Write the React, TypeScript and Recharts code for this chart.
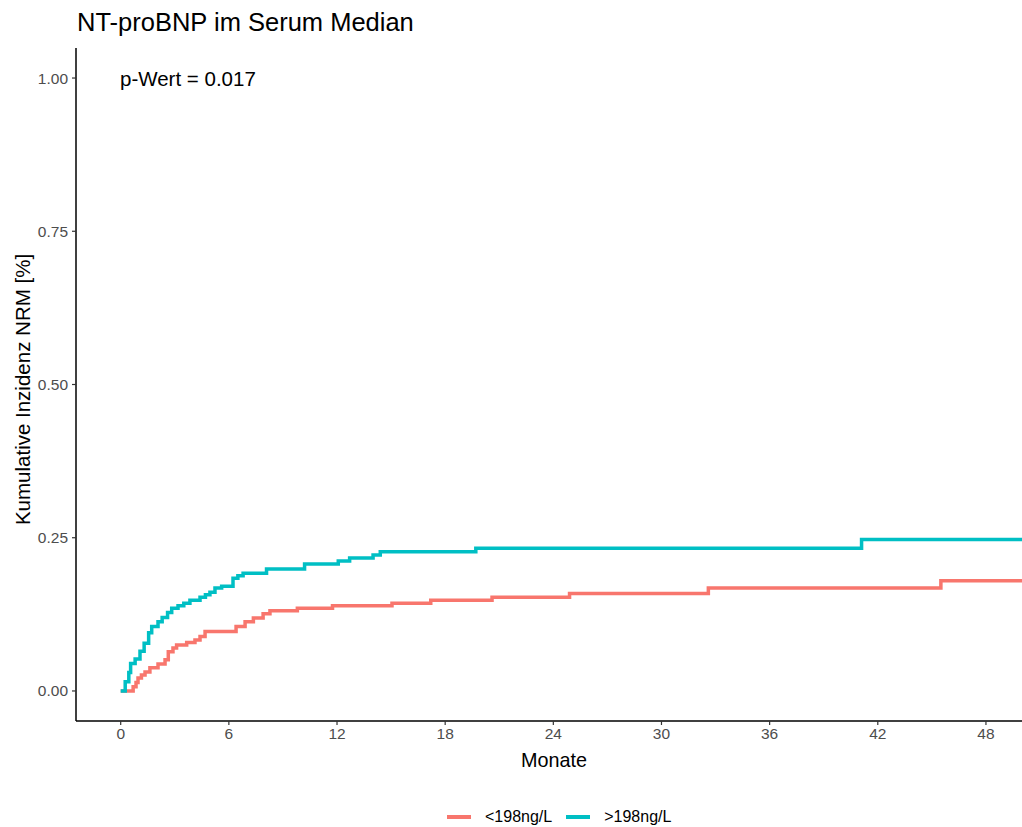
import React from 'react';
import { LineChart, Line, XAxis, YAxis } from 'recharts';

// Cumulative incidence of NRM, step points (months, incidence)
const monthsLow = [
  0, 0.6, 0.69, 0.85, 0.96, 1.15, 1.35, 1.62, 2.07, 2.46, 2.64, 2.9, 3.1, 3.66, 4.12, 4.4, 4.68,
  6.4, 6.9, 7.36, 7.9, 8.28, 9.8, 11.75, 15.05, 17.2, 20.6, 24.9, 32.6, 45.5, 50,
];
const nrmLow = [
  0, 0, 0.007, 0.014, 0.021, 0.026, 0.031, 0.038, 0.044, 0.051, 0.064, 0.07, 0.075, 0.079, 0.083,
  0.089, 0.097, 0.105, 0.113, 0.119, 0.126, 0.131, 0.135, 0.139, 0.143, 0.148, 0.153, 0.159, 0.168,
  0.18, 0.18,
];

const monthsHigh = [
  0, 0.25, 0.45, 0.55, 0.8, 1.07, 1.3, 1.55, 1.72, 2.07, 2.3, 2.6, 2.83, 3.18, 3.5, 3.84, 4.4, 4.7,
  4.95, 5.23, 5.6, 6.23, 6.5, 6.79, 8.09, 10.2, 12.07, 12.7, 14.0, 14.4, 19.7, 41.1, 50,
];
const nrmHigh = [
  0, 0.015, 0.03, 0.045, 0.052, 0.065, 0.078, 0.095, 0.105, 0.113, 0.12, 0.128, 0.135, 0.139, 0.143,
  0.148, 0.153, 0.157, 0.161, 0.168, 0.171, 0.184, 0.188, 0.192, 0.199, 0.207, 0.212, 0.217, 0.222,
  0.227, 0.233, 0.247, 0.247,
];

const groups = ['<198ng/L', '>198ng/L'];
const groupColors = ['#F8766D', '#00BFC4'];
const monthTicks = [0, 6, 12, 18, 24, 30, 36, 42, 48];
const yTicks = [0, 0.25, 0.5, 0.75, 1];

const toSeries = (t: number[], v: number[]) => t.map((m, i) => ({ t: m, v: v[i] }));
const lowData = toSeries(monthsLow, nrmLow);
const highData = toSeries(monthsHigh, nrmHigh);

const FONT = '"Liberation Sans", Arial, sans-serif';

function YTitle(props: any) {
  const { viewBox } = props;
  const cx = 22;
  const cy = viewBox.y + viewBox.height / 2 + 5;
  return (
    <text
      x={cx}
      y={cy}
      transform={`rotate(-90, ${cx}, ${cy})`}
      textAnchor="middle"
      dominantBaseline="central"
      fontSize={20.5}
      fill="#000"
      fontFamily={FONT}
    >
      Kumulative Inzidenz NRM [%]
    </text>
  );
}

function XTitle(props: any) {
  const { viewBox } = props;
  return (
    <text
      x={viewBox.x + viewBox.width / 2 + 5}
      y={760}
      textAnchor="middle"
      dominantBaseline="central"
      fontSize={19.8}
      fill="#000"
      fontFamily={FONT}
    >
      Monate
    </text>
  );
}

export default function App() {
  return (
    <div
      style={{
        position: 'absolute',
        left: 0,
        top: 0,
        width: 1022,
        height: 827,
        overflow: 'hidden',
        background: '#fff',
        fontFamily: FONT,
      }}
    >
      <div style={{ position: 'absolute', left: 77, top: 8, fontSize: 25.5, color: '#000', whiteSpace: 'nowrap' }}>
        NT-proBNP im Serum Median
      </div>
      <div style={{ position: 'absolute', left: 120, top: 67, fontSize: 20.5, color: '#000', whiteSpace: 'nowrap' }}>
        p-Wert = 0.017
      </div>

      <LineChart
        width={1022}
        height={827}
        margin={{ top: 48, right: 0, bottom: 46, left: 20 }}
        style={{ fontFamily: FONT }}
      >
        <XAxis
          type="number"
          dataKey="t"
          domain={[-2.48, 50]}
          ticks={monthTicks}
          allowDataOverflow
          height={60}
          tickSize={4}
          tickMargin={3}
          tick={{ fill: '#4d4d4d', fontSize: 15.5 }}
          tickLine={{ stroke: '#333', strokeWidth: 1.2 }}
          axisLine={{ stroke: '#000', strokeWidth: 1.5 }}
          label={<XTitle />}
        />
        <YAxis
          type="number"
          domain={[-0.049, 1.049]}
          ticks={yTicks}
          allowDataOverflow
          width={56}
          tickSize={4}
          tickMargin={4}
          tickFormatter={(v: number) => v.toFixed(2)}
          tick={{ fill: '#4d4d4d', fontSize: 15.5 }}
          tickLine={{ stroke: '#333', strokeWidth: 1.2 }}
          axisLine={{ stroke: '#000', strokeWidth: 1.5 }}
          label={<YTitle />}
        />
        <Line
          data={lowData}
          dataKey="v"
          name={groups[0]}
          type="stepAfter"
          stroke={groupColors[0]}
          strokeWidth={3.5}
          dot={false}
          isAnimationActive={false}
        />
        <Line
          data={highData}
          dataKey="v"
          name={groups[1]}
          type="stepAfter"
          stroke={groupColors[1]}
          strokeWidth={3.5}
          dot={false}
          isAnimationActive={false}
        />
      </LineChart>

      <div
        style={{
          position: 'absolute',
          left: 447,
          top: 807,
          height: 20,
          display: 'flex',
          alignItems: 'center',
          fontSize: 16,
          lineHeight: '20px',
          color: '#000',
          whiteSpace: 'nowrap',
        }}
      >
        {groups.map((g, i) => (
          <div key={g} style={{ display: 'flex', alignItems: 'center', marginRight: 14 }}>
            <div style={{ width: 24, height: 4, background: groupColors[i], marginRight: 14 }} />
            <span>{g}</span>
          </div>
        ))}
      </div>
    </div>
  );
}
